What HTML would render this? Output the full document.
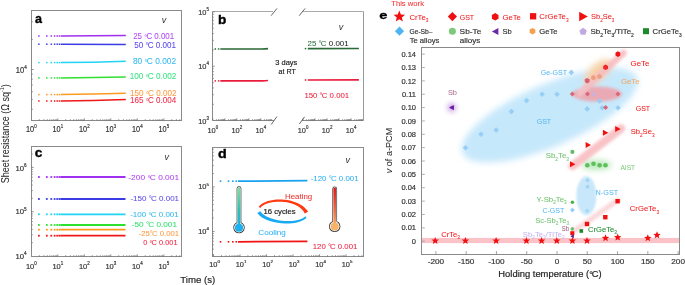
<!DOCTYPE html><html><head><meta charset="utf-8"><style>html,body{margin:0;padding:0;background:#fff;width:685px;height:285px;overflow:hidden}svg{display:block;will-change:transform}text{font-family:"Liberation Sans",sans-serif}</style></head><body>
<svg width="685" height="285" viewBox="0 0 685 285">
<defs><filter id="blur4" x="-50%" y="-50%" width="200%" height="200%"><feGaussianBlur stdDeviation="3"/></filter><filter id="blur2" x="-50%" y="-50%" width="200%" height="200%"><feGaussianBlur stdDeviation="1.6"/></filter><filter id="blur1" x="-50%" y="-50%" width="200%" height="200%"><feGaussianBlur stdDeviation="1"/></filter><linearGradient id="gcold" x1="0" y1="0" x2="0" y2="1"><stop offset="0" stop-color="#86dca0"/><stop offset="0.55" stop-color="#30c0b0"/><stop offset="1" stop-color="#1cb0ee"/></linearGradient><linearGradient id="ghot" x1="0" y1="0" x2="0" y2="1"><stop offset="0" stop-color="#e01818"/><stop offset="0.5" stop-color="#ec6040"/><stop offset="1" stop-color="#f6b46a"/></linearGradient><radialGradient id="gsb"><stop offset="0" stop-color="#a868d4" stop-opacity="0.6"/><stop offset="0.3" stop-color="#b482dc" stop-opacity="0.42"/><stop offset="0.65" stop-color="#d0b0e8" stop-opacity="0.2"/><stop offset="1" stop-color="#e8dcf4" stop-opacity="0"/></radialGradient></defs>
<rect x="31.5" y="10.5" width="150" height="110" fill="none" stroke="#8a8a8a" stroke-width="1"/>
<line x1="39.28" y1="120.50" x2="39.28" y2="119.20" stroke="#666" stroke-width="0.7" />
<line x1="43.94" y1="120.50" x2="43.94" y2="119.20" stroke="#666" stroke-width="0.7" />
<line x1="47.25" y1="120.50" x2="47.25" y2="119.20" stroke="#666" stroke-width="0.7" />
<line x1="49.82" y1="120.50" x2="49.82" y2="119.20" stroke="#666" stroke-width="0.7" />
<line x1="51.92" y1="120.50" x2="51.92" y2="119.20" stroke="#666" stroke-width="0.7" />
<line x1="53.70" y1="120.50" x2="53.70" y2="119.20" stroke="#666" stroke-width="0.7" />
<line x1="55.23" y1="120.50" x2="55.23" y2="119.20" stroke="#666" stroke-width="0.7" />
<line x1="56.59" y1="120.50" x2="56.59" y2="119.20" stroke="#666" stroke-width="0.7" />
<line x1="57.80" y1="120.50" x2="57.80" y2="118.30" stroke="#666" stroke-width="0.7" />
<line x1="65.78" y1="120.50" x2="65.78" y2="119.20" stroke="#666" stroke-width="0.7" />
<line x1="70.44" y1="120.50" x2="70.44" y2="119.20" stroke="#666" stroke-width="0.7" />
<line x1="73.75" y1="120.50" x2="73.75" y2="119.20" stroke="#666" stroke-width="0.7" />
<line x1="76.32" y1="120.50" x2="76.32" y2="119.20" stroke="#666" stroke-width="0.7" />
<line x1="78.42" y1="120.50" x2="78.42" y2="119.20" stroke="#666" stroke-width="0.7" />
<line x1="80.20" y1="120.50" x2="80.20" y2="119.20" stroke="#666" stroke-width="0.7" />
<line x1="81.73" y1="120.50" x2="81.73" y2="119.20" stroke="#666" stroke-width="0.7" />
<line x1="83.09" y1="120.50" x2="83.09" y2="119.20" stroke="#666" stroke-width="0.7" />
<line x1="84.30" y1="120.50" x2="84.30" y2="118.30" stroke="#666" stroke-width="0.7" />
<line x1="92.28" y1="120.50" x2="92.28" y2="119.20" stroke="#666" stroke-width="0.7" />
<line x1="96.94" y1="120.50" x2="96.94" y2="119.20" stroke="#666" stroke-width="0.7" />
<line x1="100.25" y1="120.50" x2="100.25" y2="119.20" stroke="#666" stroke-width="0.7" />
<line x1="102.82" y1="120.50" x2="102.82" y2="119.20" stroke="#666" stroke-width="0.7" />
<line x1="104.92" y1="120.50" x2="104.92" y2="119.20" stroke="#666" stroke-width="0.7" />
<line x1="106.70" y1="120.50" x2="106.70" y2="119.20" stroke="#666" stroke-width="0.7" />
<line x1="108.23" y1="120.50" x2="108.23" y2="119.20" stroke="#666" stroke-width="0.7" />
<line x1="109.59" y1="120.50" x2="109.59" y2="119.20" stroke="#666" stroke-width="0.7" />
<line x1="110.80" y1="120.50" x2="110.80" y2="118.30" stroke="#666" stroke-width="0.7" />
<line x1="118.78" y1="120.50" x2="118.78" y2="119.20" stroke="#666" stroke-width="0.7" />
<line x1="123.44" y1="120.50" x2="123.44" y2="119.20" stroke="#666" stroke-width="0.7" />
<line x1="126.75" y1="120.50" x2="126.75" y2="119.20" stroke="#666" stroke-width="0.7" />
<line x1="129.32" y1="120.50" x2="129.32" y2="119.20" stroke="#666" stroke-width="0.7" />
<line x1="131.42" y1="120.50" x2="131.42" y2="119.20" stroke="#666" stroke-width="0.7" />
<line x1="133.20" y1="120.50" x2="133.20" y2="119.20" stroke="#666" stroke-width="0.7" />
<line x1="134.73" y1="120.50" x2="134.73" y2="119.20" stroke="#666" stroke-width="0.7" />
<line x1="136.09" y1="120.50" x2="136.09" y2="119.20" stroke="#666" stroke-width="0.7" />
<line x1="137.30" y1="120.50" x2="137.30" y2="118.30" stroke="#666" stroke-width="0.7" />
<line x1="145.28" y1="120.50" x2="145.28" y2="119.20" stroke="#666" stroke-width="0.7" />
<line x1="149.94" y1="120.50" x2="149.94" y2="119.20" stroke="#666" stroke-width="0.7" />
<line x1="153.25" y1="120.50" x2="153.25" y2="119.20" stroke="#666" stroke-width="0.7" />
<line x1="155.82" y1="120.50" x2="155.82" y2="119.20" stroke="#666" stroke-width="0.7" />
<line x1="157.92" y1="120.50" x2="157.92" y2="119.20" stroke="#666" stroke-width="0.7" />
<line x1="159.70" y1="120.50" x2="159.70" y2="119.20" stroke="#666" stroke-width="0.7" />
<line x1="161.23" y1="120.50" x2="161.23" y2="119.20" stroke="#666" stroke-width="0.7" />
<line x1="162.59" y1="120.50" x2="162.59" y2="119.20" stroke="#666" stroke-width="0.7" />
<line x1="163.80" y1="120.50" x2="163.80" y2="118.30" stroke="#666" stroke-width="0.7" />
<line x1="171.78" y1="120.50" x2="171.78" y2="119.20" stroke="#666" stroke-width="0.7" />
<line x1="176.44" y1="120.50" x2="176.44" y2="119.20" stroke="#666" stroke-width="0.7" />
<line x1="179.75" y1="120.50" x2="179.75" y2="119.20" stroke="#666" stroke-width="0.7" />
<line x1="31.50" y1="109.29" x2="32.80" y2="109.29" stroke="#666" stroke-width="0.7" />
<line x1="31.50" y1="99.60" x2="32.80" y2="99.60" stroke="#666" stroke-width="0.7" />
<line x1="31.50" y1="91.68" x2="32.80" y2="91.68" stroke="#666" stroke-width="0.7" />
<line x1="31.50" y1="84.99" x2="32.80" y2="84.99" stroke="#666" stroke-width="0.7" />
<line x1="31.50" y1="79.19" x2="32.80" y2="79.19" stroke="#666" stroke-width="0.7" />
<line x1="31.50" y1="74.08" x2="32.80" y2="74.08" stroke="#666" stroke-width="0.7" />
<line x1="31.50" y1="69.50" x2="33.70" y2="69.50" stroke="#666" stroke-width="0.7" />
<line x1="31.50" y1="39.40" x2="32.80" y2="39.40" stroke="#666" stroke-width="0.7" />
<line x1="31.50" y1="21.79" x2="32.80" y2="21.79" stroke="#666" stroke-width="0.7" />
<text transform="translate(31.30,132.14) scale(0.881,1)" font-size="8.3" fill="#333" stroke="#333" stroke-width="0.18" text-anchor="middle">10<tspan font-size="4.98" dy="-4.15">0</tspan></text>
<text transform="translate(57.80,132.14) scale(0.881,1)" font-size="8.3" fill="#333" stroke="#333" stroke-width="0.18" text-anchor="middle">10<tspan font-size="4.98" dy="-4.15">1</tspan></text>
<text transform="translate(84.30,132.14) scale(0.881,1)" font-size="8.3" fill="#333" stroke="#333" stroke-width="0.18" text-anchor="middle">10<tspan font-size="4.98" dy="-4.15">2</tspan></text>
<text transform="translate(110.80,132.14) scale(0.881,1)" font-size="8.3" fill="#333" stroke="#333" stroke-width="0.18" text-anchor="middle">10<tspan font-size="4.98" dy="-4.15">3</tspan></text>
<text transform="translate(137.30,132.14) scale(0.881,1)" font-size="8.3" fill="#333" stroke="#333" stroke-width="0.18" text-anchor="middle">10<tspan font-size="4.98" dy="-4.15">4</tspan></text>
<text transform="translate(163.80,132.14) scale(0.881,1)" font-size="8.3" fill="#333" stroke="#333" stroke-width="0.18" text-anchor="middle">10<tspan font-size="4.98" dy="-4.15">5</tspan></text>
<text transform="translate(21.30,73.34) scale(0.917,1)" font-size="8.3" fill="#333" stroke="#333" stroke-width="0.18" text-anchor="middle">10<tspan font-size="4.98" dy="-4.15">4</tspan></text>
<text transform="translate(34.94,22.90) scale(1.046,1)" font-size="12.0" fill="#000" stroke="#000" stroke-width="0.35" font-weight="bold">a</text>
<text x="164.00" y="22.70" font-size="9" fill="#333" text-anchor="middle" font-style="italic">v</text>
<rect x="38.15" y="35.25" width="1.5" height="1.5" fill="#a030f0"/>
<rect x="46.05" y="35.25" width="1.5" height="1.5" fill="#a030f0"/>
<rect x="50.55" y="35.25" width="1.5" height="1.5" fill="#a030f0"/>
<rect x="53.85" y="35.25" width="1.5" height="1.5" fill="#a030f0"/>
<rect x="56.45" y="35.25" width="1.5" height="1.5" fill="#a030f0"/>
<rect x="58.65" y="35.25" width="1.5" height="1.5" fill="#a030f0"/>
<path d="M60.70,36.00 Q93.25,35.92 125.80,35.60" stroke="#a030f0" stroke-width="1.5" fill="none"/>
<text x="133.21" y="38.94" font-size="8.3" fill="#b048f4" stroke="#b048f4" stroke-width="0.05" text-anchor="start" font-weight="normal" font-style="normal" textLength="40.96" lengthAdjust="spacingAndGlyphs" >25 <tspan dy="0.58" font-size="7.89">°</tspan><tspan dy="-0.58" dx="-0.83">C</tspan> 0.001</text>
<rect x="38.15" y="43.45" width="1.5" height="1.5" fill="#3c3ce6"/>
<rect x="46.05" y="43.45" width="1.5" height="1.5" fill="#3c3ce6"/>
<rect x="50.55" y="43.45" width="1.5" height="1.5" fill="#3c3ce6"/>
<rect x="53.85" y="43.45" width="1.5" height="1.5" fill="#3c3ce6"/>
<rect x="56.45" y="43.45" width="1.5" height="1.5" fill="#3c3ce6"/>
<rect x="58.65" y="43.45" width="1.5" height="1.5" fill="#3c3ce6"/>
<path d="M60.70,44.20 Q93.25,44.24 125.80,44.40" stroke="#3c3ce6" stroke-width="1.5" fill="none"/>
<text x="134.18" y="47.64" font-size="8.3" fill="#5a48f0" stroke="#5a48f0" stroke-width="0.05" text-anchor="start" font-weight="normal" font-style="normal" textLength="41.90" lengthAdjust="spacingAndGlyphs" >50 <tspan dy="0.58" font-size="7.89">°</tspan><tspan dy="-0.58" dx="-0.83">C</tspan> 0.001</text>
<rect x="38.15" y="61.85" width="1.5" height="1.5" fill="#20d4f4"/>
<rect x="46.05" y="61.85" width="1.5" height="1.5" fill="#20d4f4"/>
<rect x="50.55" y="61.85" width="1.5" height="1.5" fill="#20d4f4"/>
<rect x="53.85" y="61.85" width="1.5" height="1.5" fill="#20d4f4"/>
<rect x="56.45" y="61.85" width="1.5" height="1.5" fill="#20d4f4"/>
<rect x="58.65" y="61.85" width="1.5" height="1.5" fill="#20d4f4"/>
<path d="M60.70,62.60 Q93.25,62.32 125.80,61.20" stroke="#20d4f4" stroke-width="1.5" fill="none"/>
<text x="132.95" y="64.34" font-size="8.3" fill="#30b8f0" stroke="#30b8f0" stroke-width="0.05" text-anchor="start" font-weight="normal" font-style="normal" textLength="43.16" lengthAdjust="spacingAndGlyphs" >80 <tspan dy="0.58" font-size="7.89">°</tspan><tspan dy="-0.58" dx="-0.83">C</tspan> 0.002</text>
<rect x="38.15" y="77.15" width="1.5" height="1.5" fill="#30e030"/>
<rect x="46.05" y="77.15" width="1.5" height="1.5" fill="#30e030"/>
<rect x="50.55" y="77.15" width="1.5" height="1.5" fill="#30e030"/>
<rect x="53.85" y="77.15" width="1.5" height="1.5" fill="#30e030"/>
<rect x="56.45" y="77.15" width="1.5" height="1.5" fill="#30e030"/>
<rect x="58.65" y="77.15" width="1.5" height="1.5" fill="#30e030"/>
<path d="M60.70,77.90 Q93.25,77.72 125.80,77.00" stroke="#30e030" stroke-width="1.5" fill="none"/>
<text x="129.69" y="79.44" font-size="8.3" fill="#38e480" stroke="#38e480" stroke-width="0.05" text-anchor="start" font-weight="normal" font-style="normal" textLength="46.71" lengthAdjust="spacingAndGlyphs" >100 <tspan dy="0.58" font-size="7.89">°</tspan><tspan dy="-0.58" dx="-0.83">C</tspan> 0.002</text>
<rect x="38.15" y="93.85" width="1.5" height="1.5" fill="#ff9a20"/>
<rect x="46.05" y="93.85" width="1.5" height="1.5" fill="#ff9a20"/>
<rect x="50.55" y="93.85" width="1.5" height="1.5" fill="#ff9a20"/>
<rect x="53.85" y="93.85" width="1.5" height="1.5" fill="#ff9a20"/>
<rect x="56.45" y="93.85" width="1.5" height="1.5" fill="#ff9a20"/>
<rect x="58.65" y="93.85" width="1.5" height="1.5" fill="#ff9a20"/>
<path d="M60.70,94.60 Q93.25,94.34 125.80,93.30" stroke="#ff9a20" stroke-width="1.5" fill="none"/>
<text x="130.10" y="96.04" font-size="8.3" fill="#ff9a40" stroke="#ff9a40" stroke-width="0.05" text-anchor="start" font-weight="normal" font-style="normal" textLength="46.30" lengthAdjust="spacingAndGlyphs" >150 <tspan dy="0.58" font-size="7.89">°</tspan><tspan dy="-0.58" dx="-0.83">C</tspan> 0.002</text>
<rect x="38.15" y="100.25" width="1.5" height="1.5" fill="#f01818"/>
<rect x="46.05" y="100.25" width="1.5" height="1.5" fill="#f01818"/>
<rect x="50.55" y="100.25" width="1.5" height="1.5" fill="#f01818"/>
<rect x="53.85" y="100.25" width="1.5" height="1.5" fill="#f01818"/>
<rect x="56.45" y="100.25" width="1.5" height="1.5" fill="#f01818"/>
<rect x="58.65" y="100.25" width="1.5" height="1.5" fill="#f01818"/>
<path d="M60.70,101.00 Q93.25,100.72 125.80,99.60" stroke="#f01818" stroke-width="1.5" fill="none"/>
<text x="130.10" y="103.44" font-size="8.3" fill="#f02844" stroke="#f02844" stroke-width="0.05" text-anchor="start" font-weight="normal" font-style="normal" textLength="46.13" lengthAdjust="spacingAndGlyphs" >165 <tspan dy="0.58" font-size="7.89">°</tspan><tspan dy="-0.58" dx="-0.83">C</tspan> 0.004</text>
<rect x="31.5" y="146.5" width="150" height="110" fill="none" stroke="#8a8a8a" stroke-width="1"/>
<line x1="39.28" y1="256.50" x2="39.28" y2="255.20" stroke="#666" stroke-width="0.7" />
<line x1="43.94" y1="256.50" x2="43.94" y2="255.20" stroke="#666" stroke-width="0.7" />
<line x1="47.25" y1="256.50" x2="47.25" y2="255.20" stroke="#666" stroke-width="0.7" />
<line x1="49.82" y1="256.50" x2="49.82" y2="255.20" stroke="#666" stroke-width="0.7" />
<line x1="51.92" y1="256.50" x2="51.92" y2="255.20" stroke="#666" stroke-width="0.7" />
<line x1="53.70" y1="256.50" x2="53.70" y2="255.20" stroke="#666" stroke-width="0.7" />
<line x1="55.23" y1="256.50" x2="55.23" y2="255.20" stroke="#666" stroke-width="0.7" />
<line x1="56.59" y1="256.50" x2="56.59" y2="255.20" stroke="#666" stroke-width="0.7" />
<line x1="57.80" y1="256.50" x2="57.80" y2="254.30" stroke="#666" stroke-width="0.7" />
<line x1="65.78" y1="256.50" x2="65.78" y2="255.20" stroke="#666" stroke-width="0.7" />
<line x1="70.44" y1="256.50" x2="70.44" y2="255.20" stroke="#666" stroke-width="0.7" />
<line x1="73.75" y1="256.50" x2="73.75" y2="255.20" stroke="#666" stroke-width="0.7" />
<line x1="76.32" y1="256.50" x2="76.32" y2="255.20" stroke="#666" stroke-width="0.7" />
<line x1="78.42" y1="256.50" x2="78.42" y2="255.20" stroke="#666" stroke-width="0.7" />
<line x1="80.20" y1="256.50" x2="80.20" y2="255.20" stroke="#666" stroke-width="0.7" />
<line x1="81.73" y1="256.50" x2="81.73" y2="255.20" stroke="#666" stroke-width="0.7" />
<line x1="83.09" y1="256.50" x2="83.09" y2="255.20" stroke="#666" stroke-width="0.7" />
<line x1="84.30" y1="256.50" x2="84.30" y2="254.30" stroke="#666" stroke-width="0.7" />
<line x1="92.28" y1="256.50" x2="92.28" y2="255.20" stroke="#666" stroke-width="0.7" />
<line x1="96.94" y1="256.50" x2="96.94" y2="255.20" stroke="#666" stroke-width="0.7" />
<line x1="100.25" y1="256.50" x2="100.25" y2="255.20" stroke="#666" stroke-width="0.7" />
<line x1="102.82" y1="256.50" x2="102.82" y2="255.20" stroke="#666" stroke-width="0.7" />
<line x1="104.92" y1="256.50" x2="104.92" y2="255.20" stroke="#666" stroke-width="0.7" />
<line x1="106.70" y1="256.50" x2="106.70" y2="255.20" stroke="#666" stroke-width="0.7" />
<line x1="108.23" y1="256.50" x2="108.23" y2="255.20" stroke="#666" stroke-width="0.7" />
<line x1="109.59" y1="256.50" x2="109.59" y2="255.20" stroke="#666" stroke-width="0.7" />
<line x1="110.80" y1="256.50" x2="110.80" y2="254.30" stroke="#666" stroke-width="0.7" />
<line x1="118.78" y1="256.50" x2="118.78" y2="255.20" stroke="#666" stroke-width="0.7" />
<line x1="123.44" y1="256.50" x2="123.44" y2="255.20" stroke="#666" stroke-width="0.7" />
<line x1="126.75" y1="256.50" x2="126.75" y2="255.20" stroke="#666" stroke-width="0.7" />
<line x1="129.32" y1="256.50" x2="129.32" y2="255.20" stroke="#666" stroke-width="0.7" />
<line x1="131.42" y1="256.50" x2="131.42" y2="255.20" stroke="#666" stroke-width="0.7" />
<line x1="133.20" y1="256.50" x2="133.20" y2="255.20" stroke="#666" stroke-width="0.7" />
<line x1="134.73" y1="256.50" x2="134.73" y2="255.20" stroke="#666" stroke-width="0.7" />
<line x1="136.09" y1="256.50" x2="136.09" y2="255.20" stroke="#666" stroke-width="0.7" />
<line x1="137.30" y1="256.50" x2="137.30" y2="254.30" stroke="#666" stroke-width="0.7" />
<line x1="145.28" y1="256.50" x2="145.28" y2="255.20" stroke="#666" stroke-width="0.7" />
<line x1="149.94" y1="256.50" x2="149.94" y2="255.20" stroke="#666" stroke-width="0.7" />
<line x1="153.25" y1="256.50" x2="153.25" y2="255.20" stroke="#666" stroke-width="0.7" />
<line x1="155.82" y1="256.50" x2="155.82" y2="255.20" stroke="#666" stroke-width="0.7" />
<line x1="157.92" y1="256.50" x2="157.92" y2="255.20" stroke="#666" stroke-width="0.7" />
<line x1="159.70" y1="256.50" x2="159.70" y2="255.20" stroke="#666" stroke-width="0.7" />
<line x1="161.23" y1="256.50" x2="161.23" y2="255.20" stroke="#666" stroke-width="0.7" />
<line x1="162.59" y1="256.50" x2="162.59" y2="255.20" stroke="#666" stroke-width="0.7" />
<line x1="163.80" y1="256.50" x2="163.80" y2="254.30" stroke="#666" stroke-width="0.7" />
<line x1="171.78" y1="256.50" x2="171.78" y2="255.20" stroke="#666" stroke-width="0.7" />
<line x1="176.44" y1="256.50" x2="176.44" y2="255.20" stroke="#666" stroke-width="0.7" />
<line x1="179.75" y1="256.50" x2="179.75" y2="255.20" stroke="#666" stroke-width="0.7" />
<line x1="31.50" y1="242.66" x2="32.80" y2="242.66" stroke="#666" stroke-width="0.7" />
<line x1="31.50" y1="234.86" x2="32.80" y2="234.86" stroke="#666" stroke-width="0.7" />
<line x1="31.50" y1="229.33" x2="32.80" y2="229.33" stroke="#666" stroke-width="0.7" />
<line x1="31.50" y1="225.04" x2="32.80" y2="225.04" stroke="#666" stroke-width="0.7" />
<line x1="31.50" y1="221.53" x2="32.80" y2="221.53" stroke="#666" stroke-width="0.7" />
<line x1="31.50" y1="218.56" x2="32.80" y2="218.56" stroke="#666" stroke-width="0.7" />
<line x1="31.50" y1="215.99" x2="32.80" y2="215.99" stroke="#666" stroke-width="0.7" />
<line x1="31.50" y1="213.73" x2="32.80" y2="213.73" stroke="#666" stroke-width="0.7" />
<line x1="31.50" y1="211.70" x2="33.70" y2="211.70" stroke="#666" stroke-width="0.7" />
<line x1="31.50" y1="198.36" x2="32.80" y2="198.36" stroke="#666" stroke-width="0.7" />
<line x1="31.50" y1="190.56" x2="32.80" y2="190.56" stroke="#666" stroke-width="0.7" />
<line x1="31.50" y1="185.03" x2="32.80" y2="185.03" stroke="#666" stroke-width="0.7" />
<line x1="31.50" y1="180.74" x2="32.80" y2="180.74" stroke="#666" stroke-width="0.7" />
<line x1="31.50" y1="177.23" x2="32.80" y2="177.23" stroke="#666" stroke-width="0.7" />
<line x1="31.50" y1="174.26" x2="32.80" y2="174.26" stroke="#666" stroke-width="0.7" />
<line x1="31.50" y1="171.69" x2="32.80" y2="171.69" stroke="#666" stroke-width="0.7" />
<line x1="31.50" y1="169.43" x2="32.80" y2="169.43" stroke="#666" stroke-width="0.7" />
<line x1="31.50" y1="167.40" x2="33.70" y2="167.40" stroke="#666" stroke-width="0.7" />
<line x1="31.50" y1="154.06" x2="32.80" y2="154.06" stroke="#666" stroke-width="0.7" />
<text transform="translate(31.30,268.76) scale(0.963,1)" font-size="7.8" fill="#333" stroke="#333" stroke-width="0.18" text-anchor="middle">10<tspan font-size="4.68" dy="-3.90">0</tspan></text>
<text transform="translate(57.80,268.76) scale(0.963,1)" font-size="7.8" fill="#333" stroke="#333" stroke-width="0.18" text-anchor="middle">10<tspan font-size="4.68" dy="-3.90">1</tspan></text>
<text transform="translate(84.30,268.76) scale(0.963,1)" font-size="7.8" fill="#333" stroke="#333" stroke-width="0.18" text-anchor="middle">10<tspan font-size="4.68" dy="-3.90">2</tspan></text>
<text transform="translate(110.80,268.76) scale(0.963,1)" font-size="7.8" fill="#333" stroke="#333" stroke-width="0.18" text-anchor="middle">10<tspan font-size="4.68" dy="-3.90">3</tspan></text>
<text transform="translate(137.30,268.76) scale(0.963,1)" font-size="7.8" fill="#333" stroke="#333" stroke-width="0.18" text-anchor="middle">10<tspan font-size="4.68" dy="-3.90">4</tspan></text>
<text transform="translate(163.80,268.76) scale(0.963,1)" font-size="7.8" fill="#333" stroke="#333" stroke-width="0.18" text-anchor="middle">10<tspan font-size="4.68" dy="-3.90">5</tspan></text>
<text transform="translate(21.00,170.96) scale(0.989,1)" font-size="7.8" fill="#333" stroke="#333" stroke-width="0.18" text-anchor="middle">10<tspan font-size="4.68" dy="-3.90">6</tspan></text>
<text transform="translate(21.00,214.46) scale(0.989,1)" font-size="7.8" fill="#333" stroke="#333" stroke-width="0.18" text-anchor="middle">10<tspan font-size="4.68" dy="-3.90">5</tspan></text>
<text transform="translate(21.00,258.96) scale(0.989,1)" font-size="7.8" fill="#333" stroke="#333" stroke-width="0.18" text-anchor="middle">10<tspan font-size="4.68" dy="-3.90">4</tspan></text>
<text transform="translate(34.76,157.20) scale(1.144,1)" font-size="12.0" fill="#000" stroke="#000" stroke-width="0.35" font-weight="bold">c</text>
<text x="166.80" y="159.80" font-size="9" fill="#333" text-anchor="middle" font-style="italic">v</text>
<rect x="38.00" y="176.10" width="1.8" height="1.8" fill="#a030f0"/>
<rect x="45.90" y="176.10" width="1.8" height="1.8" fill="#a030f0"/>
<rect x="50.40" y="176.10" width="1.8" height="1.8" fill="#a030f0"/>
<rect x="53.70" y="176.10" width="1.8" height="1.8" fill="#a030f0"/>
<rect x="56.30" y="176.10" width="1.8" height="1.8" fill="#a030f0"/>
<rect x="58.50" y="176.10" width="1.8" height="1.8" fill="#a030f0"/>
<path d="M60.30,177.00 Q92.90,177.00 125.50,177.00" stroke="#a030f0" stroke-width="1.8" fill="none"/>
<text x="128.34" y="179.97" font-size="8.1" fill="#b040f4" stroke="#b040f4" stroke-width="0.05" text-anchor="start" font-weight="normal" font-style="normal" textLength="50.76" lengthAdjust="spacingAndGlyphs" >-200 <tspan dy="0.57" font-size="7.69">°</tspan><tspan dy="-0.57" dx="-0.81">C</tspan> 0.001</text>
<rect x="38.00" y="198.10" width="1.8" height="1.8" fill="#3c3ce6"/>
<rect x="45.90" y="198.10" width="1.8" height="1.8" fill="#3c3ce6"/>
<rect x="50.40" y="198.10" width="1.8" height="1.8" fill="#3c3ce6"/>
<rect x="53.70" y="198.10" width="1.8" height="1.8" fill="#3c3ce6"/>
<rect x="56.30" y="198.10" width="1.8" height="1.8" fill="#3c3ce6"/>
<rect x="58.50" y="198.10" width="1.8" height="1.8" fill="#3c3ce6"/>
<path d="M60.30,199.00 Q92.90,199.00 125.50,199.00" stroke="#3c3ce6" stroke-width="1.8" fill="none"/>
<text x="130.45" y="200.77" font-size="8.1" fill="#5a4ae8" stroke="#5a4ae8" stroke-width="0.05" text-anchor="start" font-weight="normal" font-style="normal" textLength="48.62" lengthAdjust="spacingAndGlyphs" >-150 <tspan dy="0.57" font-size="7.69">°</tspan><tspan dy="-0.57" dx="-0.81">C</tspan> 0.001</text>
<rect x="38.00" y="213.40" width="1.8" height="1.8" fill="#20d4f4"/>
<rect x="45.90" y="213.40" width="1.8" height="1.8" fill="#20d4f4"/>
<rect x="50.40" y="213.40" width="1.8" height="1.8" fill="#20d4f4"/>
<rect x="53.70" y="213.40" width="1.8" height="1.8" fill="#20d4f4"/>
<rect x="56.30" y="213.40" width="1.8" height="1.8" fill="#20d4f4"/>
<rect x="58.50" y="213.40" width="1.8" height="1.8" fill="#20d4f4"/>
<path d="M60.30,214.30 Q92.90,214.30 125.50,214.30" stroke="#20d4f4" stroke-width="1.8" fill="none"/>
<text x="130.15" y="216.97" font-size="8.1" fill="#30b8f0" stroke="#30b8f0" stroke-width="0.05" text-anchor="start" font-weight="normal" font-style="normal" textLength="48.62" lengthAdjust="spacingAndGlyphs" >-100 <tspan dy="0.57" font-size="7.69">°</tspan><tspan dy="-0.57" dx="-0.81">C</tspan> 0.001</text>
<rect x="38.00" y="224.10" width="1.8" height="1.8" fill="#30e030"/>
<rect x="45.90" y="224.10" width="1.8" height="1.8" fill="#30e030"/>
<rect x="50.40" y="224.10" width="1.8" height="1.8" fill="#30e030"/>
<rect x="53.70" y="224.10" width="1.8" height="1.8" fill="#30e030"/>
<rect x="56.30" y="224.10" width="1.8" height="1.8" fill="#30e030"/>
<rect x="58.50" y="224.10" width="1.8" height="1.8" fill="#30e030"/>
<path d="M60.30,225.00 Q92.90,225.00 125.50,225.00" stroke="#30e030" stroke-width="1.8" fill="none"/>
<text x="131.75" y="226.57" font-size="8.1" fill="#30e070" stroke="#30e070" stroke-width="0.05" text-anchor="start" font-weight="normal" font-style="normal" textLength="45.24" lengthAdjust="spacingAndGlyphs" >-50 <tspan dy="0.57" font-size="7.69">°</tspan><tspan dy="-0.57" dx="-0.81">C</tspan> 0.001</text>
<rect x="38.00" y="228.80" width="1.8" height="1.8" fill="#ff9a20"/>
<rect x="45.90" y="228.80" width="1.8" height="1.8" fill="#ff9a20"/>
<rect x="50.40" y="228.80" width="1.8" height="1.8" fill="#ff9a20"/>
<rect x="53.70" y="228.80" width="1.8" height="1.8" fill="#ff9a20"/>
<rect x="56.30" y="228.80" width="1.8" height="1.8" fill="#ff9a20"/>
<rect x="58.50" y="228.80" width="1.8" height="1.8" fill="#ff9a20"/>
<path d="M60.30,229.70 Q92.90,229.70 125.50,229.70" stroke="#ff9a20" stroke-width="1.8" fill="none"/>
<text x="138.67" y="235.87" font-size="8.1" fill="#ff9a40" stroke="#ff9a40" stroke-width="0.05" text-anchor="start" font-weight="normal" font-style="normal" textLength="40.50" lengthAdjust="spacingAndGlyphs" >-25<tspan dy="0.57" font-size="7.69">°</tspan><tspan dy="-0.57" dx="-0.81">C</tspan> 0.001</text>
<rect x="38.00" y="234.80" width="1.8" height="1.8" fill="#f01818"/>
<rect x="45.90" y="234.80" width="1.8" height="1.8" fill="#f01818"/>
<rect x="50.40" y="234.80" width="1.8" height="1.8" fill="#f01818"/>
<rect x="53.70" y="234.80" width="1.8" height="1.8" fill="#f01818"/>
<rect x="56.30" y="234.80" width="1.8" height="1.8" fill="#f01818"/>
<rect x="58.50" y="234.80" width="1.8" height="1.8" fill="#f01818"/>
<path d="M60.30,235.70 Q92.90,235.70 125.50,235.70" stroke="#f01818" stroke-width="1.8" fill="none"/>
<text x="143.22" y="245.47" font-size="8.1" fill="#f02040" stroke="#f02040" stroke-width="0.05" text-anchor="start" font-weight="normal" font-style="normal" textLength="34.33" lengthAdjust="spacingAndGlyphs" >0 <tspan dy="0.57" font-size="7.69">°</tspan><tspan dy="-0.57" dx="-0.81">C</tspan> 0.001</text>
<line x1="212.50" y1="11.50" x2="212.50" y2="120.50" stroke="#8a8a8a" stroke-width="1" />
<line x1="363.50" y1="11.50" x2="363.50" y2="120.50" stroke="#999" stroke-width="1" />
<line x1="212.50" y1="11.50" x2="273.00" y2="11.50" stroke="#aaa" stroke-width="1" />
<line x1="303.00" y1="11.50" x2="363.50" y2="11.50" stroke="#aaa" stroke-width="1" />
<line x1="212.50" y1="120.50" x2="274.00" y2="120.50" stroke="#8a8a8a" stroke-width="1" />
<line x1="302.00" y1="120.50" x2="363.50" y2="120.50" stroke="#8a8a8a" stroke-width="1" />
<line x1="271.10" y1="15.70" x2="277.00" y2="8.40" stroke="#555" stroke-width="0.9" />
<line x1="299.20" y1="15.70" x2="305.10" y2="8.40" stroke="#555" stroke-width="0.9" />
<line x1="271.20" y1="124.50" x2="276.90" y2="116.60" stroke="#555" stroke-width="0.9" />
<line x1="299.30" y1="124.00" x2="304.60" y2="116.80" stroke="#555" stroke-width="0.9" />
<line x1="212.50" y1="104.32" x2="213.80" y2="104.32" stroke="#666" stroke-width="0.7" />
<line x1="212.50" y1="94.74" x2="213.80" y2="94.74" stroke="#666" stroke-width="0.7" />
<line x1="212.50" y1="87.95" x2="213.80" y2="87.95" stroke="#666" stroke-width="0.7" />
<line x1="212.50" y1="82.68" x2="213.80" y2="82.68" stroke="#666" stroke-width="0.7" />
<line x1="212.50" y1="78.37" x2="213.80" y2="78.37" stroke="#666" stroke-width="0.7" />
<line x1="212.50" y1="74.73" x2="213.80" y2="74.73" stroke="#666" stroke-width="0.7" />
<line x1="212.50" y1="71.57" x2="213.80" y2="71.57" stroke="#666" stroke-width="0.7" />
<line x1="212.50" y1="68.79" x2="213.80" y2="68.79" stroke="#666" stroke-width="0.7" />
<line x1="212.50" y1="66.30" x2="214.70" y2="66.30" stroke="#666" stroke-width="0.7" />
<line x1="212.50" y1="49.92" x2="213.80" y2="49.92" stroke="#666" stroke-width="0.7" />
<line x1="212.50" y1="40.34" x2="213.80" y2="40.34" stroke="#666" stroke-width="0.7" />
<line x1="212.50" y1="33.55" x2="213.80" y2="33.55" stroke="#666" stroke-width="0.7" />
<line x1="212.50" y1="28.28" x2="213.80" y2="28.28" stroke="#666" stroke-width="0.7" />
<line x1="212.50" y1="23.97" x2="213.80" y2="23.97" stroke="#666" stroke-width="0.7" />
<line x1="212.50" y1="20.33" x2="213.80" y2="20.33" stroke="#666" stroke-width="0.7" />
<line x1="212.50" y1="17.17" x2="213.80" y2="17.17" stroke="#666" stroke-width="0.7" />
<line x1="212.50" y1="14.39" x2="213.80" y2="14.39" stroke="#666" stroke-width="0.7" />
<line x1="212.50" y1="11.90" x2="214.70" y2="11.90" stroke="#666" stroke-width="0.7" />
<line x1="212.80" y1="120.50" x2="212.80" y2="118.30" stroke="#666" stroke-width="0.7" />
<line x1="216.41" y1="120.50" x2="216.41" y2="119.20" stroke="#666" stroke-width="0.7" />
<line x1="218.53" y1="120.50" x2="218.53" y2="119.20" stroke="#666" stroke-width="0.7" />
<line x1="220.02" y1="120.50" x2="220.02" y2="119.20" stroke="#666" stroke-width="0.7" />
<line x1="221.19" y1="120.50" x2="221.19" y2="119.20" stroke="#666" stroke-width="0.7" />
<line x1="222.14" y1="120.50" x2="222.14" y2="119.20" stroke="#666" stroke-width="0.7" />
<line x1="222.94" y1="120.50" x2="222.94" y2="119.20" stroke="#666" stroke-width="0.7" />
<line x1="223.64" y1="120.50" x2="223.64" y2="119.20" stroke="#666" stroke-width="0.7" />
<line x1="224.25" y1="120.50" x2="224.25" y2="119.20" stroke="#666" stroke-width="0.7" />
<line x1="224.80" y1="120.50" x2="224.80" y2="118.30" stroke="#666" stroke-width="0.7" />
<line x1="228.41" y1="120.50" x2="228.41" y2="119.20" stroke="#666" stroke-width="0.7" />
<line x1="230.53" y1="120.50" x2="230.53" y2="119.20" stroke="#666" stroke-width="0.7" />
<line x1="232.02" y1="120.50" x2="232.02" y2="119.20" stroke="#666" stroke-width="0.7" />
<line x1="233.19" y1="120.50" x2="233.19" y2="119.20" stroke="#666" stroke-width="0.7" />
<line x1="234.14" y1="120.50" x2="234.14" y2="119.20" stroke="#666" stroke-width="0.7" />
<line x1="234.94" y1="120.50" x2="234.94" y2="119.20" stroke="#666" stroke-width="0.7" />
<line x1="235.64" y1="120.50" x2="235.64" y2="119.20" stroke="#666" stroke-width="0.7" />
<line x1="236.25" y1="120.50" x2="236.25" y2="119.20" stroke="#666" stroke-width="0.7" />
<line x1="236.80" y1="120.50" x2="236.80" y2="118.30" stroke="#666" stroke-width="0.7" />
<line x1="240.41" y1="120.50" x2="240.41" y2="119.20" stroke="#666" stroke-width="0.7" />
<line x1="242.53" y1="120.50" x2="242.53" y2="119.20" stroke="#666" stroke-width="0.7" />
<line x1="244.02" y1="120.50" x2="244.02" y2="119.20" stroke="#666" stroke-width="0.7" />
<line x1="245.19" y1="120.50" x2="245.19" y2="119.20" stroke="#666" stroke-width="0.7" />
<line x1="246.14" y1="120.50" x2="246.14" y2="119.20" stroke="#666" stroke-width="0.7" />
<line x1="246.94" y1="120.50" x2="246.94" y2="119.20" stroke="#666" stroke-width="0.7" />
<line x1="247.64" y1="120.50" x2="247.64" y2="119.20" stroke="#666" stroke-width="0.7" />
<line x1="248.25" y1="120.50" x2="248.25" y2="119.20" stroke="#666" stroke-width="0.7" />
<line x1="248.80" y1="120.50" x2="248.80" y2="118.30" stroke="#666" stroke-width="0.7" />
<line x1="252.41" y1="120.50" x2="252.41" y2="119.20" stroke="#666" stroke-width="0.7" />
<line x1="254.53" y1="120.50" x2="254.53" y2="119.20" stroke="#666" stroke-width="0.7" />
<line x1="256.02" y1="120.50" x2="256.02" y2="119.20" stroke="#666" stroke-width="0.7" />
<line x1="257.19" y1="120.50" x2="257.19" y2="119.20" stroke="#666" stroke-width="0.7" />
<line x1="258.14" y1="120.50" x2="258.14" y2="119.20" stroke="#666" stroke-width="0.7" />
<line x1="258.94" y1="120.50" x2="258.94" y2="119.20" stroke="#666" stroke-width="0.7" />
<line x1="259.64" y1="120.50" x2="259.64" y2="119.20" stroke="#666" stroke-width="0.7" />
<line x1="260.25" y1="120.50" x2="260.25" y2="119.20" stroke="#666" stroke-width="0.7" />
<line x1="260.80" y1="120.50" x2="260.80" y2="118.30" stroke="#666" stroke-width="0.7" />
<line x1="264.41" y1="120.50" x2="264.41" y2="119.20" stroke="#666" stroke-width="0.7" />
<line x1="266.53" y1="120.50" x2="266.53" y2="119.20" stroke="#666" stroke-width="0.7" />
<line x1="268.02" y1="120.50" x2="268.02" y2="119.20" stroke="#666" stroke-width="0.7" />
<line x1="269.19" y1="120.50" x2="269.19" y2="119.20" stroke="#666" stroke-width="0.7" />
<line x1="270.14" y1="120.50" x2="270.14" y2="119.20" stroke="#666" stroke-width="0.7" />
<line x1="270.94" y1="120.50" x2="270.94" y2="119.20" stroke="#666" stroke-width="0.7" />
<line x1="271.64" y1="120.50" x2="271.64" y2="119.20" stroke="#666" stroke-width="0.7" />
<line x1="303.00" y1="120.50" x2="303.00" y2="118.30" stroke="#666" stroke-width="0.7" />
<line x1="306.61" y1="120.50" x2="306.61" y2="119.20" stroke="#666" stroke-width="0.7" />
<line x1="308.73" y1="120.50" x2="308.73" y2="119.20" stroke="#666" stroke-width="0.7" />
<line x1="310.22" y1="120.50" x2="310.22" y2="119.20" stroke="#666" stroke-width="0.7" />
<line x1="311.39" y1="120.50" x2="311.39" y2="119.20" stroke="#666" stroke-width="0.7" />
<line x1="312.34" y1="120.50" x2="312.34" y2="119.20" stroke="#666" stroke-width="0.7" />
<line x1="313.14" y1="120.50" x2="313.14" y2="119.20" stroke="#666" stroke-width="0.7" />
<line x1="313.84" y1="120.50" x2="313.84" y2="119.20" stroke="#666" stroke-width="0.7" />
<line x1="314.45" y1="120.50" x2="314.45" y2="119.20" stroke="#666" stroke-width="0.7" />
<line x1="315.00" y1="120.50" x2="315.00" y2="118.30" stroke="#666" stroke-width="0.7" />
<line x1="318.61" y1="120.50" x2="318.61" y2="119.20" stroke="#666" stroke-width="0.7" />
<line x1="320.73" y1="120.50" x2="320.73" y2="119.20" stroke="#666" stroke-width="0.7" />
<line x1="322.22" y1="120.50" x2="322.22" y2="119.20" stroke="#666" stroke-width="0.7" />
<line x1="323.39" y1="120.50" x2="323.39" y2="119.20" stroke="#666" stroke-width="0.7" />
<line x1="324.34" y1="120.50" x2="324.34" y2="119.20" stroke="#666" stroke-width="0.7" />
<line x1="325.14" y1="120.50" x2="325.14" y2="119.20" stroke="#666" stroke-width="0.7" />
<line x1="325.84" y1="120.50" x2="325.84" y2="119.20" stroke="#666" stroke-width="0.7" />
<line x1="326.45" y1="120.50" x2="326.45" y2="119.20" stroke="#666" stroke-width="0.7" />
<line x1="327.00" y1="120.50" x2="327.00" y2="118.30" stroke="#666" stroke-width="0.7" />
<line x1="330.61" y1="120.50" x2="330.61" y2="119.20" stroke="#666" stroke-width="0.7" />
<line x1="332.73" y1="120.50" x2="332.73" y2="119.20" stroke="#666" stroke-width="0.7" />
<line x1="334.22" y1="120.50" x2="334.22" y2="119.20" stroke="#666" stroke-width="0.7" />
<line x1="335.39" y1="120.50" x2="335.39" y2="119.20" stroke="#666" stroke-width="0.7" />
<line x1="336.34" y1="120.50" x2="336.34" y2="119.20" stroke="#666" stroke-width="0.7" />
<line x1="337.14" y1="120.50" x2="337.14" y2="119.20" stroke="#666" stroke-width="0.7" />
<line x1="337.84" y1="120.50" x2="337.84" y2="119.20" stroke="#666" stroke-width="0.7" />
<line x1="338.45" y1="120.50" x2="338.45" y2="119.20" stroke="#666" stroke-width="0.7" />
<line x1="339.00" y1="120.50" x2="339.00" y2="118.30" stroke="#666" stroke-width="0.7" />
<line x1="342.61" y1="120.50" x2="342.61" y2="119.20" stroke="#666" stroke-width="0.7" />
<line x1="344.73" y1="120.50" x2="344.73" y2="119.20" stroke="#666" stroke-width="0.7" />
<line x1="346.22" y1="120.50" x2="346.22" y2="119.20" stroke="#666" stroke-width="0.7" />
<line x1="347.39" y1="120.50" x2="347.39" y2="119.20" stroke="#666" stroke-width="0.7" />
<line x1="348.34" y1="120.50" x2="348.34" y2="119.20" stroke="#666" stroke-width="0.7" />
<line x1="349.14" y1="120.50" x2="349.14" y2="119.20" stroke="#666" stroke-width="0.7" />
<line x1="349.84" y1="120.50" x2="349.84" y2="119.20" stroke="#666" stroke-width="0.7" />
<line x1="350.45" y1="120.50" x2="350.45" y2="119.20" stroke="#666" stroke-width="0.7" />
<line x1="351.00" y1="120.50" x2="351.00" y2="118.30" stroke="#666" stroke-width="0.7" />
<line x1="354.61" y1="120.50" x2="354.61" y2="119.20" stroke="#666" stroke-width="0.7" />
<line x1="356.73" y1="120.50" x2="356.73" y2="119.20" stroke="#666" stroke-width="0.7" />
<line x1="358.22" y1="120.50" x2="358.22" y2="119.20" stroke="#666" stroke-width="0.7" />
<line x1="359.39" y1="120.50" x2="359.39" y2="119.20" stroke="#666" stroke-width="0.7" />
<line x1="360.34" y1="120.50" x2="360.34" y2="119.20" stroke="#666" stroke-width="0.7" />
<line x1="361.14" y1="120.50" x2="361.14" y2="119.20" stroke="#666" stroke-width="0.7" />
<line x1="361.84" y1="120.50" x2="361.84" y2="119.20" stroke="#666" stroke-width="0.7" />
<line x1="362.45" y1="120.50" x2="362.45" y2="119.20" stroke="#666" stroke-width="0.7" />
<text transform="translate(212.80,132.80) scale(0.939,1)" font-size="7.9" fill="#333" stroke="#333" stroke-width="0.18" text-anchor="middle">10<tspan font-size="4.74" dy="-3.95">0</tspan></text>
<text transform="translate(303.00,132.80) scale(0.939,1)" font-size="7.9" fill="#333" stroke="#333" stroke-width="0.18" text-anchor="middle">10<tspan font-size="4.74" dy="-3.95">0</tspan></text>
<text transform="translate(236.80,132.80) scale(0.939,1)" font-size="7.9" fill="#333" stroke="#333" stroke-width="0.18" text-anchor="middle">10<tspan font-size="4.74" dy="-3.95">2</tspan></text>
<text transform="translate(327.00,132.80) scale(0.939,1)" font-size="7.9" fill="#333" stroke="#333" stroke-width="0.18" text-anchor="middle">10<tspan font-size="4.74" dy="-3.95">2</tspan></text>
<text transform="translate(260.80,132.80) scale(0.939,1)" font-size="7.9" fill="#333" stroke="#333" stroke-width="0.18" text-anchor="middle">10<tspan font-size="4.74" dy="-3.95">4</tspan></text>
<text transform="translate(351.00,132.80) scale(0.939,1)" font-size="7.9" fill="#333" stroke="#333" stroke-width="0.18" text-anchor="middle">10<tspan font-size="4.74" dy="-3.95">4</tspan></text>
<text transform="translate(203.50,15.20) scale(0.939,1)" font-size="7.9" fill="#333" stroke="#333" stroke-width="0.18" text-anchor="middle">10<tspan font-size="4.74" dy="-3.95">5</tspan></text>
<text transform="translate(203.50,69.10) scale(0.939,1)" font-size="7.9" fill="#333" stroke="#333" stroke-width="0.18" text-anchor="middle">10<tspan font-size="4.74" dy="-3.95">4</tspan></text>
<text transform="translate(203.50,123.60) scale(0.939,1)" font-size="7.9" fill="#333" stroke="#333" stroke-width="0.18" text-anchor="middle">10<tspan font-size="4.74" dy="-3.95">3</tspan></text>
<text transform="translate(218.11,23.60) scale(1.067,1)" font-size="12.8" fill="#000" stroke="#000" stroke-width="0.35" font-weight="bold">b</text>
<text x="341.00" y="29.80" font-size="9" fill="#333" text-anchor="middle" font-style="italic">v</text>
<rect x="214.55" y="48.25" width="1.5" height="1.5" fill="#2a6a36"/>
<rect x="217.85" y="48.25" width="1.5" height="1.5" fill="#2a6a36"/>
<path d="M220.3,49.00 L262,49.00 Q266,49.00 268,48.60" stroke="#2a6a36" stroke-width="1.6" fill="none"/>
<rect x="304.75" y="47.85" width="1.5" height="1.5" fill="#2a6a36"/>
<path d="M307.8,48.60 L358.9,48.50" stroke="#2a6a36" stroke-width="1.6" fill="none"/>
<rect x="214.55" y="80.15" width="1.5" height="1.5" fill="#ea1c3c"/>
<rect x="217.85" y="80.15" width="1.5" height="1.5" fill="#ea1c3c"/>
<path d="M220.3,80.90 L262,80.90 Q266,80.90 268,80.50" stroke="#ea1c3c" stroke-width="1.6" fill="none"/>
<rect x="304.75" y="79.25" width="1.5" height="1.5" fill="#ea1c3c"/>
<path d="M307.8,80.00 L358.9,79.90" stroke="#ea1c3c" stroke-width="1.6" fill="none"/>
<text x="307.51" y="45.56" font-size="7.8" fill="#2e7040" stroke="#2e7040" stroke-width="0.05" text-anchor="start" font-weight="normal" font-style="normal" textLength="41.16" lengthAdjust="spacingAndGlyphs" >25 <tspan dy="0.55" font-size="7.41">°</tspan><tspan dy="-0.55" dx="-0.78">C</tspan> <tspan fill="#222">0.001</tspan></text>
<text x="304.42" y="97.56" font-size="7.8" fill="#e8203a" stroke="#e8203a" stroke-width="0.05" text-anchor="start" font-weight="normal" font-style="normal" textLength="44.75" lengthAdjust="spacingAndGlyphs" >150 <tspan dy="0.55" font-size="7.41">°</tspan><tspan dy="-0.55" dx="-0.78">C</tspan> 0.001</text>
<text x="275.32" y="65.16" font-size="7.5" fill="#222" stroke="#222" stroke-width="0.18" text-anchor="start" font-weight="normal" font-style="normal" textLength="21.95" lengthAdjust="spacingAndGlyphs" >3 days</text>
<text x="278.60" y="74.36" font-size="7.5" fill="#222" stroke="#222" stroke-width="0.18" text-anchor="start" font-weight="normal" font-style="normal" textLength="17.16" lengthAdjust="spacingAndGlyphs" >at RT</text>
<rect x="212.5" y="147.5" width="151" height="109" fill="none" stroke="#8a8a8a" stroke-width="1"/>
<line x1="213.50" y1="256.50" x2="213.50" y2="254.30" stroke="#666" stroke-width="0.7" />
<line x1="221.48" y1="256.50" x2="221.48" y2="255.20" stroke="#666" stroke-width="0.7" />
<line x1="226.14" y1="256.50" x2="226.14" y2="255.20" stroke="#666" stroke-width="0.7" />
<line x1="229.45" y1="256.50" x2="229.45" y2="255.20" stroke="#666" stroke-width="0.7" />
<line x1="232.02" y1="256.50" x2="232.02" y2="255.20" stroke="#666" stroke-width="0.7" />
<line x1="234.12" y1="256.50" x2="234.12" y2="255.20" stroke="#666" stroke-width="0.7" />
<line x1="235.90" y1="256.50" x2="235.90" y2="255.20" stroke="#666" stroke-width="0.7" />
<line x1="237.43" y1="256.50" x2="237.43" y2="255.20" stroke="#666" stroke-width="0.7" />
<line x1="238.79" y1="256.50" x2="238.79" y2="255.20" stroke="#666" stroke-width="0.7" />
<line x1="240.00" y1="256.50" x2="240.00" y2="254.30" stroke="#666" stroke-width="0.7" />
<line x1="247.98" y1="256.50" x2="247.98" y2="255.20" stroke="#666" stroke-width="0.7" />
<line x1="252.64" y1="256.50" x2="252.64" y2="255.20" stroke="#666" stroke-width="0.7" />
<line x1="255.95" y1="256.50" x2="255.95" y2="255.20" stroke="#666" stroke-width="0.7" />
<line x1="258.52" y1="256.50" x2="258.52" y2="255.20" stroke="#666" stroke-width="0.7" />
<line x1="260.62" y1="256.50" x2="260.62" y2="255.20" stroke="#666" stroke-width="0.7" />
<line x1="262.40" y1="256.50" x2="262.40" y2="255.20" stroke="#666" stroke-width="0.7" />
<line x1="263.93" y1="256.50" x2="263.93" y2="255.20" stroke="#666" stroke-width="0.7" />
<line x1="265.29" y1="256.50" x2="265.29" y2="255.20" stroke="#666" stroke-width="0.7" />
<line x1="266.50" y1="256.50" x2="266.50" y2="254.30" stroke="#666" stroke-width="0.7" />
<line x1="274.48" y1="256.50" x2="274.48" y2="255.20" stroke="#666" stroke-width="0.7" />
<line x1="279.14" y1="256.50" x2="279.14" y2="255.20" stroke="#666" stroke-width="0.7" />
<line x1="282.45" y1="256.50" x2="282.45" y2="255.20" stroke="#666" stroke-width="0.7" />
<line x1="285.02" y1="256.50" x2="285.02" y2="255.20" stroke="#666" stroke-width="0.7" />
<line x1="287.12" y1="256.50" x2="287.12" y2="255.20" stroke="#666" stroke-width="0.7" />
<line x1="288.90" y1="256.50" x2="288.90" y2="255.20" stroke="#666" stroke-width="0.7" />
<line x1="290.43" y1="256.50" x2="290.43" y2="255.20" stroke="#666" stroke-width="0.7" />
<line x1="291.79" y1="256.50" x2="291.79" y2="255.20" stroke="#666" stroke-width="0.7" />
<line x1="293.00" y1="256.50" x2="293.00" y2="254.30" stroke="#666" stroke-width="0.7" />
<line x1="300.98" y1="256.50" x2="300.98" y2="255.20" stroke="#666" stroke-width="0.7" />
<line x1="305.64" y1="256.50" x2="305.64" y2="255.20" stroke="#666" stroke-width="0.7" />
<line x1="308.95" y1="256.50" x2="308.95" y2="255.20" stroke="#666" stroke-width="0.7" />
<line x1="311.52" y1="256.50" x2="311.52" y2="255.20" stroke="#666" stroke-width="0.7" />
<line x1="313.62" y1="256.50" x2="313.62" y2="255.20" stroke="#666" stroke-width="0.7" />
<line x1="315.40" y1="256.50" x2="315.40" y2="255.20" stroke="#666" stroke-width="0.7" />
<line x1="316.93" y1="256.50" x2="316.93" y2="255.20" stroke="#666" stroke-width="0.7" />
<line x1="318.29" y1="256.50" x2="318.29" y2="255.20" stroke="#666" stroke-width="0.7" />
<line x1="319.50" y1="256.50" x2="319.50" y2="254.30" stroke="#666" stroke-width="0.7" />
<line x1="327.48" y1="256.50" x2="327.48" y2="255.20" stroke="#666" stroke-width="0.7" />
<line x1="332.14" y1="256.50" x2="332.14" y2="255.20" stroke="#666" stroke-width="0.7" />
<line x1="335.45" y1="256.50" x2="335.45" y2="255.20" stroke="#666" stroke-width="0.7" />
<line x1="338.02" y1="256.50" x2="338.02" y2="255.20" stroke="#666" stroke-width="0.7" />
<line x1="340.12" y1="256.50" x2="340.12" y2="255.20" stroke="#666" stroke-width="0.7" />
<line x1="341.90" y1="256.50" x2="341.90" y2="255.20" stroke="#666" stroke-width="0.7" />
<line x1="343.43" y1="256.50" x2="343.43" y2="255.20" stroke="#666" stroke-width="0.7" />
<line x1="344.79" y1="256.50" x2="344.79" y2="255.20" stroke="#666" stroke-width="0.7" />
<line x1="346.00" y1="256.50" x2="346.00" y2="254.30" stroke="#666" stroke-width="0.7" />
<line x1="353.98" y1="256.50" x2="353.98" y2="255.20" stroke="#666" stroke-width="0.7" />
<line x1="358.64" y1="256.50" x2="358.64" y2="255.20" stroke="#666" stroke-width="0.7" />
<line x1="361.95" y1="256.50" x2="361.95" y2="255.20" stroke="#666" stroke-width="0.7" />
<line x1="212.50" y1="254.67" x2="213.80" y2="254.67" stroke="#666" stroke-width="0.7" />
<line x1="212.50" y1="249.11" x2="213.80" y2="249.11" stroke="#666" stroke-width="0.7" />
<line x1="212.50" y1="244.80" x2="213.80" y2="244.80" stroke="#666" stroke-width="0.7" />
<line x1="212.50" y1="241.27" x2="213.80" y2="241.27" stroke="#666" stroke-width="0.7" />
<line x1="212.50" y1="238.29" x2="213.80" y2="238.29" stroke="#666" stroke-width="0.7" />
<line x1="212.50" y1="235.71" x2="213.80" y2="235.71" stroke="#666" stroke-width="0.7" />
<line x1="212.50" y1="233.44" x2="213.80" y2="233.44" stroke="#666" stroke-width="0.7" />
<line x1="212.50" y1="231.40" x2="214.70" y2="231.40" stroke="#666" stroke-width="0.7" />
<line x1="212.50" y1="218.00" x2="213.80" y2="218.00" stroke="#666" stroke-width="0.7" />
<line x1="212.50" y1="210.17" x2="213.80" y2="210.17" stroke="#666" stroke-width="0.7" />
<line x1="212.50" y1="204.61" x2="213.80" y2="204.61" stroke="#666" stroke-width="0.7" />
<line x1="212.50" y1="200.30" x2="213.80" y2="200.30" stroke="#666" stroke-width="0.7" />
<line x1="212.50" y1="196.77" x2="213.80" y2="196.77" stroke="#666" stroke-width="0.7" />
<line x1="212.50" y1="193.79" x2="213.80" y2="193.79" stroke="#666" stroke-width="0.7" />
<line x1="212.50" y1="191.21" x2="213.80" y2="191.21" stroke="#666" stroke-width="0.7" />
<line x1="212.50" y1="188.94" x2="213.80" y2="188.94" stroke="#666" stroke-width="0.7" />
<line x1="212.50" y1="186.90" x2="214.70" y2="186.90" stroke="#666" stroke-width="0.7" />
<line x1="212.50" y1="173.50" x2="213.80" y2="173.50" stroke="#666" stroke-width="0.7" />
<line x1="212.50" y1="165.67" x2="213.80" y2="165.67" stroke="#666" stroke-width="0.7" />
<line x1="212.50" y1="160.11" x2="213.80" y2="160.11" stroke="#666" stroke-width="0.7" />
<line x1="212.50" y1="155.80" x2="213.80" y2="155.80" stroke="#666" stroke-width="0.7" />
<line x1="212.50" y1="152.27" x2="213.80" y2="152.27" stroke="#666" stroke-width="0.7" />
<line x1="212.50" y1="149.29" x2="213.80" y2="149.29" stroke="#666" stroke-width="0.7" />
<text transform="translate(214.50,266.85) scale(1.030,1)" font-size="7.2" fill="#333" stroke="#333" stroke-width="0.18" text-anchor="middle">10<tspan font-size="4.32" dy="-3.60">0</tspan></text>
<text transform="translate(241.00,266.85) scale(1.030,1)" font-size="7.2" fill="#333" stroke="#333" stroke-width="0.18" text-anchor="middle">10<tspan font-size="4.32" dy="-3.60">1</tspan></text>
<text transform="translate(267.50,266.85) scale(1.030,1)" font-size="7.2" fill="#333" stroke="#333" stroke-width="0.18" text-anchor="middle">10<tspan font-size="4.32" dy="-3.60">2</tspan></text>
<text transform="translate(294.00,266.85) scale(1.030,1)" font-size="7.2" fill="#333" stroke="#333" stroke-width="0.18" text-anchor="middle">10<tspan font-size="4.32" dy="-3.60">3</tspan></text>
<text transform="translate(320.50,266.85) scale(1.030,1)" font-size="7.2" fill="#333" stroke="#333" stroke-width="0.18" text-anchor="middle">10<tspan font-size="4.32" dy="-3.60">4</tspan></text>
<text transform="translate(347.00,266.85) scale(1.030,1)" font-size="7.2" fill="#333" stroke="#333" stroke-width="0.18" text-anchor="middle">10<tspan font-size="4.32" dy="-3.60">5</tspan></text>
<text transform="translate(203.50,189.45) scale(1.030,1)" font-size="7.2" fill="#333" stroke="#333" stroke-width="0.18" text-anchor="middle">10<tspan font-size="4.32" dy="-3.60">5</tspan></text>
<text transform="translate(203.50,233.95) scale(1.030,1)" font-size="7.2" fill="#333" stroke="#333" stroke-width="0.18" text-anchor="middle">10<tspan font-size="4.32" dy="-3.60">4</tspan></text>
<text transform="translate(218.11,157.90) scale(1.134,1)" font-size="12.6" fill="#000" stroke="#000" stroke-width="0.35" font-weight="bold">d</text>
<text x="347.70" y="162.80" font-size="9" fill="#333" text-anchor="middle" font-style="italic">v</text>
<rect x="219.70" y="180.40" width="1.6" height="1.6" fill="#1aa2f0"/>
<rect x="227.70" y="180.40" width="1.6" height="1.6" fill="#1aa2f0"/>
<rect x="232.00" y="180.40" width="1.6" height="1.6" fill="#1aa2f0"/>
<rect x="235.50" y="180.40" width="1.6" height="1.6" fill="#1aa2f0"/>
<path d="M238.00,181.20 Q272.70,181.08 307.40,180.60" stroke="#1aa2f0" stroke-width="1.7" fill="none"/>
<rect x="219.70" y="241.00" width="1.6" height="1.6" fill="#f01414"/>
<rect x="227.70" y="241.00" width="1.6" height="1.6" fill="#f01414"/>
<rect x="232.00" y="241.00" width="1.6" height="1.6" fill="#f01414"/>
<rect x="235.50" y="241.00" width="1.6" height="1.6" fill="#f01414"/>
<path d="M238.00,241.80 Q272.70,241.70 307.40,241.30" stroke="#f01414" stroke-width="1.7" fill="none"/>
<text x="310.66" y="180.55" font-size="7.2" fill="#30b0f0" stroke="#30b0f0" stroke-width="0.05" text-anchor="start" font-weight="normal" font-style="normal" textLength="48.02" lengthAdjust="spacingAndGlyphs" >-120 <tspan dy="0.50" font-size="6.84">°</tspan><tspan dy="-0.50" dx="-0.72">C</tspan> 0.001</text>
<text x="312.72" y="248.55" font-size="7.2" fill="#f02040" stroke="#f02040" stroke-width="0.05" text-anchor="start" font-weight="normal" font-style="normal" textLength="44.65" lengthAdjust="spacingAndGlyphs" >120 <tspan dy="0.50" font-size="6.84">°</tspan><tspan dy="-0.50" dx="-0.72">C</tspan> 0.001</text>
<rect x="236.65" y="186.20" width="4.7" height="41.40" rx="2.35" fill="#3a3a3a"/>
<circle cx="239.00" cy="227.60" r="5.7" fill="#3a3a3a"/>
<rect x="237.35" y="186.90" width="3.3" height="41.40" rx="1.65" fill="#fff"/>
<circle cx="239.00" cy="227.60" r="4.85" fill="#fff"/>
<rect x="237.65" y="187.30" width="2.7" height="41.40" rx="1.3" fill="url(#gcold)"/>
<circle cx="239.00" cy="227.80" r="4.05" fill="#1cb0ee"/>
<rect x="332.35" y="186.60" width="4.7" height="39.80" rx="2.35" fill="#3a3a3a"/>
<circle cx="334.70" cy="226.40" r="5.7" fill="#3a3a3a"/>
<rect x="333.05" y="187.30" width="3.3" height="39.80" rx="1.65" fill="#fff"/>
<circle cx="334.70" cy="226.40" r="4.85" fill="#fff"/>
<rect x="333.35" y="187.70" width="2.7" height="39.80" rx="1.3" fill="url(#ghot)"/>
<circle cx="334.70" cy="226.60" r="4.05" fill="#f6b46a"/>
<polygon points="260.45,207.92 260.86,207.35 261.36,206.79 261.95,206.25 262.64,205.72 263.42,205.22 264.28,204.74 265.22,204.28 266.24,203.86 267.32,203.47 268.47,203.11 269.67,202.79 270.92,202.51 272.23,202.27 273.57,202.06 274.95,201.90 276.36,201.79 277.79,201.71 279.25,201.69 280.72,201.71 282.20,201.78 283.68,201.89 285.16,202.06 286.64,202.28 288.10,202.56 289.55,202.89 290.97,203.27 292.36,203.71 293.72,204.21 295.04,204.76 296.32,205.38 297.54,206.05 298.71,206.78 299.81,207.58 300.84,208.43 301.80,209.34 302.67,210.31 303.46,211.34 304.16,212.42 304.76,213.56 308.04,211.64 307.11,210.37 306.10,209.19 305.03,208.09 303.90,207.07 302.71,206.12 301.46,205.25 300.17,204.45 298.83,203.71 297.45,203.04 296.04,202.43 294.59,201.88 293.11,201.40 291.61,200.97 290.09,200.60 288.55,200.28 287.00,200.02 285.44,199.81 283.88,199.65 282.32,199.55 280.77,199.49 279.23,199.49 277.71,199.53 276.20,199.62 274.72,199.76 273.28,199.94 271.86,200.16 270.49,200.43 269.16,200.74 267.88,201.09 266.65,201.49 265.48,201.92 264.37,202.40 263.32,202.91 262.35,203.46 261.46,204.06 260.64,204.70 259.91,205.38 259.28,206.11 258.75,206.88" fill="#ff3a10"/>
<polygon points="257.38,213.04 258.09,213.97 258.88,214.85 259.76,215.68 260.71,216.47 261.73,217.20 262.81,217.89 263.96,218.54 265.16,219.15 266.41,219.72 267.70,220.24 269.05,220.73 270.43,221.18 271.84,221.59 273.29,221.96 274.76,222.30 276.25,222.59 277.76,222.84 279.29,223.06 280.82,223.23 282.36,223.37 283.90,223.46 285.44,223.52 286.97,223.53 288.48,223.50 289.98,223.43 291.45,223.31 292.90,223.16 294.32,222.96 295.71,222.71 297.05,222.42 298.35,222.09 299.60,221.71 300.80,221.28 301.95,220.80 303.03,220.27 304.04,219.69 304.99,219.06 305.85,218.38 306.64,217.64 305.36,216.36 304.68,216.96 303.91,217.52 303.06,218.04 302.14,218.52 301.15,218.96 300.10,219.36 298.98,219.71 297.81,220.03 296.58,220.30 295.31,220.54 294.00,220.73 292.65,220.88 291.27,220.99 289.86,221.06 288.43,221.08 286.99,221.07 285.53,221.02 284.06,220.93 282.59,220.80 281.12,220.63 279.66,220.42 278.21,220.18 276.78,219.90 275.37,219.58 273.99,219.23 272.63,218.84 271.32,218.41 270.04,217.96 268.82,217.47 267.64,216.95 266.52,216.40 265.47,215.82 264.48,215.22 263.56,214.59 262.72,213.93 261.97,213.26 261.30,212.57 260.71,211.87 260.22,211.16" fill="#1aaaf0"/>
<text x="285.05" y="199.08" font-size="7.0" fill="#f03030" stroke="#f03030" stroke-width="0.05" text-anchor="start" font-weight="normal" font-style="normal" textLength="27.15" lengthAdjust="spacingAndGlyphs" >Heating</text>
<text x="263.52" y="213.71" font-size="6.8" fill="#222" stroke="#222" stroke-width="0.18" text-anchor="start" font-weight="normal" font-style="normal" textLength="32.06" lengthAdjust="spacingAndGlyphs" >16 cycles</text>
<text x="258.29" y="234.68" font-size="7.0" fill="#30b0f0" stroke="#30b0f0" stroke-width="0.05" text-anchor="start" font-weight="normal" font-style="normal" textLength="27.53" lengthAdjust="spacingAndGlyphs" >Cooling</text>
<text transform="translate(8.7,183.3) rotate(-90)" font-size="10" fill="#222" textLength="99" lengthAdjust="spacingAndGlyphs">Sheet resistance (Ω sq<tspan font-size="6" dy="-4.6">-1</tspan><tspan dy="4.6">)</tspan></text>
<text x="180.29" y="283.27" font-size="9.8" fill="#222" stroke="#222" stroke-width="0.18" text-anchor="start" font-weight="normal" font-style="normal" textLength="35.01" lengthAdjust="spacingAndGlyphs" >Time (s)</text>
<g filter="url(#blur4)">
<ellipse cx="549.7" cy="115.2" rx="95" ry="31" transform="rotate(-23.5 549.7 115.2)" fill="#c6e8fb"/>

<ellipse cx="596.5" cy="165" rx="15" ry="4.5" fill="#b4e6b4"/>
<ellipse cx="598" cy="72" rx="17" ry="8" transform="rotate(-42 598 72)" fill="#f6d0a8"/>
</g>
<g filter="url(#blur2)" opacity="0.9">
<ellipse cx="597" cy="94" rx="25" ry="7.5" fill="#eea4ae"/>
<path d="M580,93 L623.5,53" stroke="#f7bcc0" stroke-width="6.5" stroke-linecap="round"/>
<path d="M572.5,166 L621,128.5" stroke="#f8bcc0" stroke-width="8.5" stroke-linecap="round"/>
<path d="M574,231 L618,200" stroke="#fad0d4" stroke-width="5" stroke-linecap="round"/>
</g>
<rect x="422" y="237.9" width="257" height="5.2" fill="#fbc2c8"/>
<circle cx="451.8" cy="107.6" r="9.5" fill="url(#gsb)"/>
<ellipse cx="586.4" cy="195.7" rx="10" ry="19.5" fill="#c8e7fa" filter="url(#blur1)"/>
<rect x="421.5" y="47.5" width="258" height="207" fill="none" stroke="#8a8a8a" stroke-width="1"/>
<line x1="421.50" y1="241.20" x2="424.80" y2="241.20" stroke="#999" stroke-width="0.8" />
<text x="416.00" y="243.85" font-size="7.5" fill="#333" stroke="#333" stroke-width="0.18" text-anchor="end" font-weight="normal" font-style="normal" >0</text>
<line x1="421.50" y1="227.84" x2="424.80" y2="227.84" stroke="#999" stroke-width="0.8" />
<text x="416.00" y="230.49" font-size="7.5" fill="#333" stroke="#333" stroke-width="0.18" text-anchor="end" font-weight="normal" font-style="normal" >0.01</text>
<line x1="421.50" y1="214.48" x2="424.80" y2="214.48" stroke="#999" stroke-width="0.8" />
<text x="416.00" y="217.13" font-size="7.5" fill="#333" stroke="#333" stroke-width="0.18" text-anchor="end" font-weight="normal" font-style="normal" >0.02</text>
<line x1="421.50" y1="201.12" x2="424.80" y2="201.12" stroke="#999" stroke-width="0.8" />
<text x="416.00" y="203.78" font-size="7.5" fill="#333" stroke="#333" stroke-width="0.18" text-anchor="end" font-weight="normal" font-style="normal" >0.03</text>
<line x1="421.50" y1="187.76" x2="424.80" y2="187.76" stroke="#999" stroke-width="0.8" />
<text x="416.00" y="190.41" font-size="7.5" fill="#333" stroke="#333" stroke-width="0.18" text-anchor="end" font-weight="normal" font-style="normal" >0.04</text>
<line x1="421.50" y1="174.40" x2="424.80" y2="174.40" stroke="#999" stroke-width="0.8" />
<text x="416.00" y="177.05" font-size="7.5" fill="#333" stroke="#333" stroke-width="0.18" text-anchor="end" font-weight="normal" font-style="normal" >0.05</text>
<line x1="421.50" y1="161.04" x2="424.80" y2="161.04" stroke="#999" stroke-width="0.8" />
<text x="416.00" y="163.69" font-size="7.5" fill="#333" stroke="#333" stroke-width="0.18" text-anchor="end" font-weight="normal" font-style="normal" >0.06</text>
<line x1="421.50" y1="147.68" x2="424.80" y2="147.68" stroke="#999" stroke-width="0.8" />
<text x="416.00" y="150.33" font-size="7.5" fill="#333" stroke="#333" stroke-width="0.18" text-anchor="end" font-weight="normal" font-style="normal" >0.07</text>
<line x1="421.50" y1="134.32" x2="424.80" y2="134.32" stroke="#999" stroke-width="0.8" />
<text x="416.00" y="136.97" font-size="7.5" fill="#333" stroke="#333" stroke-width="0.18" text-anchor="end" font-weight="normal" font-style="normal" >0.08</text>
<line x1="421.50" y1="120.96" x2="424.80" y2="120.96" stroke="#999" stroke-width="0.8" />
<text x="416.00" y="123.61" font-size="7.5" fill="#333" stroke="#333" stroke-width="0.18" text-anchor="end" font-weight="normal" font-style="normal" >0.09</text>
<line x1="421.50" y1="107.60" x2="424.80" y2="107.60" stroke="#999" stroke-width="0.8" />
<text x="416.00" y="110.25" font-size="7.5" fill="#333" stroke="#333" stroke-width="0.18" text-anchor="end" font-weight="normal" font-style="normal" >0.10</text>
<line x1="421.50" y1="94.24" x2="424.80" y2="94.24" stroke="#999" stroke-width="0.8" />
<text x="416.00" y="96.89" font-size="7.5" fill="#333" stroke="#333" stroke-width="0.18" text-anchor="end" font-weight="normal" font-style="normal" >0.11</text>
<line x1="421.50" y1="80.88" x2="424.80" y2="80.88" stroke="#999" stroke-width="0.8" />
<text x="416.00" y="83.53" font-size="7.5" fill="#333" stroke="#333" stroke-width="0.18" text-anchor="end" font-weight="normal" font-style="normal" >0.12</text>
<line x1="421.50" y1="67.52" x2="424.80" y2="67.52" stroke="#999" stroke-width="0.8" />
<text x="416.00" y="70.17" font-size="7.5" fill="#333" stroke="#333" stroke-width="0.18" text-anchor="end" font-weight="normal" font-style="normal" >0.13</text>
<line x1="421.50" y1="54.16" x2="424.80" y2="54.16" stroke="#999" stroke-width="0.8" />
<text x="416.00" y="56.81" font-size="7.5" fill="#333" stroke="#333" stroke-width="0.18" text-anchor="end" font-weight="normal" font-style="normal" >0.14</text>
<line x1="435.90" y1="254.50" x2="435.90" y2="251.20" stroke="#888" stroke-width="0.8" />
<g transform="translate(435.90,0) scale(1.04,1)">
<text x="0.00" y="264.50" font-size="7.9" fill="#333" stroke="#333" stroke-width="0.18" text-anchor="middle" font-weight="normal" font-style="normal" >-200</text>
</g>
<line x1="466.18" y1="254.50" x2="466.18" y2="251.20" stroke="#888" stroke-width="0.8" />
<g transform="translate(466.18,0) scale(1.04,1)">
<text x="0.00" y="264.50" font-size="7.9" fill="#333" stroke="#333" stroke-width="0.18" text-anchor="middle" font-weight="normal" font-style="normal" >-150</text>
</g>
<line x1="496.45" y1="254.50" x2="496.45" y2="251.20" stroke="#888" stroke-width="0.8" />
<g transform="translate(496.45,0) scale(1.04,1)">
<text x="0.00" y="264.50" font-size="7.9" fill="#333" stroke="#333" stroke-width="0.18" text-anchor="middle" font-weight="normal" font-style="normal" >-100</text>
</g>
<line x1="526.73" y1="254.50" x2="526.73" y2="251.20" stroke="#888" stroke-width="0.8" />
<g transform="translate(526.73,0) scale(1.04,1)">
<text x="0.00" y="264.50" font-size="7.9" fill="#333" stroke="#333" stroke-width="0.18" text-anchor="middle" font-weight="normal" font-style="normal" >-50</text>
</g>
<line x1="557.00" y1="254.50" x2="557.00" y2="251.20" stroke="#888" stroke-width="0.8" />
<g transform="translate(557.00,0) scale(1.04,1)">
<text x="0.00" y="264.50" font-size="7.9" fill="#333" stroke="#333" stroke-width="0.18" text-anchor="middle" font-weight="normal" font-style="normal" >0</text>
</g>
<line x1="587.27" y1="254.50" x2="587.27" y2="251.20" stroke="#888" stroke-width="0.8" />
<g transform="translate(587.27,0) scale(1.04,1)">
<text x="0.00" y="264.50" font-size="7.9" fill="#333" stroke="#333" stroke-width="0.18" text-anchor="middle" font-weight="normal" font-style="normal" >50</text>
</g>
<line x1="617.55" y1="254.50" x2="617.55" y2="251.20" stroke="#888" stroke-width="0.8" />
<g transform="translate(617.55,0) scale(1.04,1)">
<text x="0.00" y="264.50" font-size="7.9" fill="#333" stroke="#333" stroke-width="0.18" text-anchor="middle" font-weight="normal" font-style="normal" >100</text>
</g>
<line x1="647.83" y1="254.50" x2="647.83" y2="251.20" stroke="#888" stroke-width="0.8" />
<g transform="translate(647.83,0) scale(1.04,1)">
<text x="0.00" y="264.50" font-size="7.9" fill="#333" stroke="#333" stroke-width="0.18" text-anchor="middle" font-weight="normal" font-style="normal" >150</text>
</g>
<line x1="678.10" y1="254.50" x2="678.10" y2="251.20" stroke="#888" stroke-width="0.8" />
<g transform="translate(678.10,0) scale(1.04,1)">
<text x="0.00" y="264.50" font-size="7.9" fill="#333" stroke="#333" stroke-width="0.18" text-anchor="middle" font-weight="normal" font-style="normal" >200</text>
</g>
<text x="498.34" y="277.05" font-size="8.9" fill="#222" stroke="#222" stroke-width="0.18" text-anchor="start" font-weight="normal" font-style="normal" textLength="103.44" lengthAdjust="spacingAndGlyphs" >Holding temperature (<tspan dy="0.62" font-size="8.46">°</tspan><tspan dy="-0.62" dx="-0.89">C</tspan>)</text>
<text transform="translate(392.4,173.3) rotate(-90)" font-size="9" fill="#222" textLength="45.6" lengthAdjust="spacingAndGlyphs"><tspan font-style="italic">v</tspan> of a-PCM</text>
<polygon points="465.5,145.0 468.3,147.8 465.5,150.60000000000002 462.7,147.8" fill="#96cef6"/>
<polygon points="481,131.5 483.8,134.3 481,137.10000000000002 478.2,134.3" fill="#96cef6"/>
<polygon points="496.2,127.3 499.0,130.1 496.2,132.9 493.4,130.1" fill="#96cef6"/>
<polygon points="511.4,108.8 514.1999999999999,111.6 511.4,114.39999999999999 508.59999999999997,111.6" fill="#96cef6"/>
<polygon points="526.5,97.8 529.3,100.6 526.5,103.39999999999999 523.7,100.6" fill="#96cef6"/>
<polygon points="542.1,91.5 544.9,94.3 542.1,97.1 539.3000000000001,94.3" fill="#96cef6"/>
<polygon points="557,91.5 559.8,94.3 557,97.1 554.2,94.3" fill="#96cef6"/>
<polygon points="571.3,69.60000000000001 574.0999999999999,72.4 571.3,75.2 568.5,72.4" fill="#96cef6"/>
<polygon points="599.5,98.2 602.3,101 599.5,103.8 596.7,101" fill="#96cef6"/>
<polygon points="587.2,106.10000000000001 590.0,108.9 587.2,111.7 584.4000000000001,108.9" fill="#96cef6"/>
<polygon points="602.2,104.9 605.0,107.7 602.2,110.5 599.4000000000001,107.7" fill="#96cef6"/>
<polygon points="618,104.9 620.8,107.7 618,110.5 615.2,107.7" fill="#96cef6"/>
<polygon points="593.4,91.8 595.8,94.2 593.4,96.60000000000001 591.0,94.2" fill="#c8b4dc"/>
<polygon points="572.3,91.6 574.8,94.1 572.3,96.6 569.8,94.1" fill="#d86878"/>
<polygon points="587.5,91.6 590.0,94.1 587.5,96.6 585.0,94.1" fill="#d86878"/>
<polygon points="617.9,91.6 620.4,94.1 617.9,96.6 615.4,94.1" fill="#d86878"/>
<polygon points="605.6,105.1 608.1,107.6 605.6,110.1 603.1,107.6" fill="#d86878"/>
<polygon points="617.90,51.30 620.32,52.70 620.32,55.50 617.90,56.90 615.48,55.50 615.48,52.70" fill="#f01010"/>
<polygon points="605.60,64.50 608.02,65.90 608.02,68.70 605.60,70.10 603.18,68.70 603.18,65.90" fill="#f02828"/>
<polygon points="587.20,77.90 589.62,79.30 589.62,82.10 587.20,83.50 584.78,82.10 584.78,79.30" fill="#d86070"/>
<polygon points="593.40,75.10 595.65,76.40 595.65,79.00 593.40,80.30 591.15,79.00 591.15,76.40" fill="#eca080"/>
<polygon points="599.50,73.90 601.75,75.20 601.75,77.80 599.50,79.10 597.25,77.80 597.25,75.20" fill="#eca080"/>
<polygon points="453.86,104.89999999999999 449.0,107.6 453.86,110.3" fill="#6a1aa0"/>
<text x="452.40" y="95.22" font-size="7.4" fill="#b07090" stroke="#b07090" stroke-width="0.05" text-anchor="middle" font-weight="normal" font-style="normal" >Sb</text>
<polygon points="570.0,161.3 575.4,164.3 570.0,167.3" fill="#f01010"/>
<polygon points="585.6,142.1 591.0,145.1 585.6,148.1" fill="#f01010"/>
<polygon points="602.9,129.8 608.3,132.8 602.9,135.8" fill="#f01010"/>
<polygon points="615.2,126.1 620.6,129.1 615.2,132.1" fill="#f01010"/>
<circle cx="572.4" cy="151.9" r="2.1" fill="#64bc64"/>
<circle cx="587.3" cy="165.2" r="2.3" fill="#5cc05c"/>
<circle cx="593.5" cy="163.8" r="2.3" fill="#5cc05c"/>
<circle cx="599.6" cy="165.2" r="2.3" fill="#5cc05c"/>
<circle cx="605.5" cy="165.2" r="2.3" fill="#5cc05c"/>
<polygon points="587.5,178.0 589.8,180.3 587.5,182.60000000000002 585.2,180.3" fill="#a0d4f4"/>
<polygon points="587.5,184.39999999999998 589.8,186.7 587.5,189.0 585.2,186.7" fill="#a0d4f4"/>
<polygon points="572.4,207.6 574.8,210 572.4,212.4 570.0,210" fill="#96cef6"/>
<rect x="615.4" y="199.0" width="4.4" height="4.4" fill="#f01010"/>
<rect x="603.0999999999999" y="215.0" width="4.4" height="4.4" fill="#f01010"/>
<rect x="584.8" y="221.8" width="4.4" height="4.4" fill="#f01010"/>
<circle cx="572.4" cy="202.2" r="1.8" fill="#50b050"/>
<circle cx="572.3" cy="228.9" r="1.8" fill="#70c070"/>
<rect x="570.3" y="231.2" width="4.0" height="4.0" fill="#f01010"/>
<polygon points="573.9,234.2 570.3,236.2 573.9,238.2" fill="#5a2090"/>
<rect x="579.5" y="229.2" width="3.6" height="3.6" fill="#1a8a2a"/>
<polygon points="587.1,208.4 589.5,210.8 587.1,213.20000000000002 584.7,210.8" fill="#a8d8f8"/>
<polygon points="435.20,236.90 436.23,239.38 438.91,239.59 436.87,241.34 437.49,243.96 435.20,242.56 432.91,243.96 433.53,241.34 431.49,239.59 434.17,239.38" fill="#f01010"/>
<polygon points="465.40,236.90 466.43,239.38 469.11,239.59 467.07,241.34 467.69,243.96 465.40,242.56 463.11,243.96 463.73,241.34 461.69,239.59 464.37,239.38" fill="#f01010"/>
<polygon points="496.10,236.90 497.13,239.38 499.81,239.59 497.77,241.34 498.39,243.96 496.10,242.56 493.81,243.96 494.43,241.34 492.39,239.59 495.07,239.38" fill="#f01010"/>
<polygon points="526.40,236.90 527.43,239.38 530.11,239.59 528.07,241.34 528.69,243.96 526.40,242.56 524.11,243.96 524.73,241.34 522.69,239.59 525.37,239.38" fill="#f01010"/>
<polygon points="541.60,236.90 542.63,239.38 545.31,239.59 543.27,241.34 543.89,243.96 541.60,242.56 539.31,243.96 539.93,241.34 537.89,239.59 540.57,239.38" fill="#f01010"/>
<polygon points="556.80,236.90 557.83,239.38 560.51,239.59 558.47,241.34 559.09,243.96 556.80,242.56 554.51,243.96 555.13,241.34 553.09,239.59 555.77,239.38" fill="#f01010"/>
<polygon points="572.40,236.90 573.43,239.38 576.11,239.59 574.07,241.34 574.69,243.96 572.40,242.56 570.11,243.96 570.73,241.34 568.69,239.59 571.37,239.38" fill="#f01010"/>
<polygon points="587.00,236.90 588.03,239.38 590.71,239.59 588.67,241.34 589.29,243.96 587.00,242.56 584.71,243.96 585.33,241.34 583.29,239.59 585.97,239.38" fill="#f01010"/>
<polygon points="605.50,234.20 606.53,236.68 609.21,236.89 607.17,238.64 607.79,241.26 605.50,239.85 603.21,241.26 603.83,238.64 601.79,236.89 604.47,236.68" fill="#f01010"/>
<polygon points="617.70,233.50 618.73,235.98 621.41,236.19 619.37,237.94 619.99,240.56 617.70,239.16 615.41,240.56 616.03,237.94 613.99,236.19 616.67,235.98" fill="#f01010"/>
<polygon points="647.80,234.20 648.83,236.68 651.51,236.89 649.47,238.64 650.09,241.26 647.80,239.85 645.51,241.26 646.13,238.64 644.09,236.89 646.77,236.68" fill="#f01010"/>
<polygon points="657.00,231.30 658.03,233.78 660.71,233.99 658.67,235.74 659.29,238.36 657.00,236.95 654.71,238.36 655.33,235.74 653.29,233.99 655.97,233.78" fill="#f01010"/>
<text x="630.61" y="65.89" font-size="7.6" fill="#f01818" stroke="#f01818" stroke-width="0.05" text-anchor="start" font-weight="normal" font-style="normal" textLength="18.74" lengthAdjust="spacingAndGlyphs" >GeTe</text>
<text x="620.91" y="83.99" font-size="7.6" fill="#f0a868" stroke="#f0a868" stroke-width="0.05" text-anchor="start" font-weight="normal" font-style="normal" textLength="18.74" lengthAdjust="spacingAndGlyphs" >GeTe</text>
<text x="540.64" y="74.69" font-size="7.6" fill="#5ab8f0" stroke="#5ab8f0" stroke-width="0.05" text-anchor="start" font-weight="normal" font-style="normal" textLength="26.52" lengthAdjust="spacingAndGlyphs" >Ge-GST</text>
<text x="635.65" y="111.49" font-size="7.6" fill="#f01818" stroke="#f01818" stroke-width="0.05" text-anchor="start" font-weight="normal" font-style="normal" textLength="14.51" lengthAdjust="spacingAndGlyphs" >GST</text>
<text x="536.65" y="124.39" font-size="7.6" fill="#5ab8f0" stroke="#5ab8f0" stroke-width="0.05" text-anchor="start" font-weight="normal" font-style="normal" textLength="14.51" lengthAdjust="spacingAndGlyphs" >GST</text>
<text x="630.66" y="134.49" font-size="7.6" fill="#f01818" stroke="#f01818" stroke-width="0.05" text-anchor="start" font-weight="normal" font-style="normal" textLength="23.85" lengthAdjust="spacingAndGlyphs" >Sb<tspan font-size="4.71" dy="2.28">2</tspan><tspan dy="-2.28">Se</tspan><tspan font-size="4.71" dy="2.28">3</tspan></text>
<text x="545.65" y="158.29" font-size="7.6" fill="#70c070" stroke="#70c070" stroke-width="0.05" text-anchor="start" font-weight="normal" font-style="normal" textLength="23.36" lengthAdjust="spacingAndGlyphs" >Sb<tspan font-size="4.71" dy="2.28">2</tspan><tspan dy="-2.28">Te</tspan><tspan font-size="4.71" dy="2.28">3</tspan></text>
<text x="620.39" y="170.19" font-size="7.6" fill="#80cc80" stroke="#80cc80" stroke-width="0.05" text-anchor="start" font-weight="normal" font-style="normal" textLength="14.77" lengthAdjust="spacingAndGlyphs" >AIST</text>
<text x="595.61" y="194.69" font-size="7.6" fill="#5ab8f0" stroke="#5ab8f0" stroke-width="0.05" text-anchor="start" font-weight="normal" font-style="normal" textLength="22.56" lengthAdjust="spacingAndGlyphs" >N-GST</text>
<text x="629.81" y="211.29" font-size="7.6" fill="#f01818" stroke="#f01818" stroke-width="0.05" text-anchor="start" font-weight="normal" font-style="normal" textLength="29.29" lengthAdjust="spacingAndGlyphs" >CrGeTe<tspan font-size="4.71" dy="2.28">3</tspan></text>
<text x="536.63" y="201.69" font-size="7.6" fill="#70c070" stroke="#70c070" stroke-width="0.05" text-anchor="start" font-weight="normal" font-style="normal" textLength="30.08" lengthAdjust="spacingAndGlyphs" >Y-Sb<tspan font-size="4.71" dy="2.28">2</tspan><tspan dy="-2.28">Te</tspan><tspan font-size="4.71" dy="2.28">3</tspan></text>
<text x="542.45" y="212.69" font-size="7.6" fill="#5ab8f0" stroke="#5ab8f0" stroke-width="0.05" text-anchor="start" font-weight="normal" font-style="normal" textLength="21.91" lengthAdjust="spacingAndGlyphs" >C-GST</text>
<text x="535.16" y="222.99" font-size="7.6" fill="#70c070" stroke="#70c070" stroke-width="0.05" text-anchor="start" font-weight="normal" font-style="normal" textLength="33.84" lengthAdjust="spacingAndGlyphs" >Sc-Sb<tspan font-size="4.71" dy="2.28">2</tspan><tspan dy="-2.28">Te</tspan><tspan font-size="4.71" dy="2.28">3</tspan></text>
<text x="561.73" y="231.49" font-size="7.6" fill="#a06080" stroke="#a06080" stroke-width="0.05" text-anchor="start" font-weight="normal" font-style="normal" textLength="7.32" lengthAdjust="spacingAndGlyphs" >Sb</text>
<text x="588.02" y="232.19" font-size="7.6" fill="#1a8a2a" stroke="#1a8a2a" stroke-width="0.05" text-anchor="start" font-weight="normal" font-style="normal" textLength="28.88" lengthAdjust="spacingAndGlyphs" >CrGeTe<tspan font-size="4.71" dy="2.28">3</tspan></text>
<text x="522.85" y="236.69" font-size="7.6" fill="#c4b4f0" stroke="#c4b4f0" stroke-width="0.05" text-anchor="start" font-weight="normal" font-style="normal" textLength="41.89" lengthAdjust="spacingAndGlyphs" >Sb<tspan font-size="4.71" dy="2.28">2</tspan><tspan dy="-2.28">Te</tspan><tspan font-size="4.71" dy="2.28">3</tspan><tspan dy="-2.28">/TiTe</tspan><tspan font-size="4.71" dy="2.28">2</tspan></text>
<text x="441.22" y="236.59" font-size="7.6" fill="#f01818" stroke="#f01818" stroke-width="0.05" text-anchor="start" font-weight="normal" font-style="normal" textLength="18.79" lengthAdjust="spacingAndGlyphs" >CrTe<tspan font-size="4.71" dy="2.28">3</tspan></text>
<text transform="translate(379.13,19.20) scale(1.336,1)" font-size="11.0" fill="#000" stroke="#000" stroke-width="0.35" font-weight="bold">e</text>
<text x="391.23" y="6.06" font-size="7.8" fill="#f03030" stroke="#f03030" stroke-width="0.05" text-anchor="start" font-weight="normal" font-style="normal" textLength="32.75" lengthAdjust="spacingAndGlyphs" >This work</text>
<polygon points="399.30,10.60 400.89,14.42 405.01,14.75 401.87,17.43 402.83,21.45 399.30,19.30 395.77,21.45 396.73,17.43 393.59,14.75 397.71,14.42" fill="#f01010"/>
<text x="409.41" y="19.73" font-size="8.0" fill="#f01818" stroke="#f01818" stroke-width="0.05" text-anchor="start" font-weight="normal" font-style="normal" textLength="19.10" lengthAdjust="spacingAndGlyphs" >CrTe<tspan font-size="4.96" dy="2.40">3</tspan></text>
<polygon points="452.4,12.000000000000002 457.0,16.6 452.4,21.200000000000003 447.79999999999995,16.6" fill="#f01010"/>
<text x="459.65" y="20.03" font-size="8.0" fill="#f01818" stroke="#f01818" stroke-width="0.05" text-anchor="start" font-weight="normal" font-style="normal" textLength="14.51" lengthAdjust="spacingAndGlyphs" >GST</text>
<polygon points="495.20,13.00 498.49,14.90 498.49,18.70 495.20,20.60 491.91,18.70 491.91,14.90" fill="#f01010"/>
<text x="502.41" y="20.03" font-size="8.0" fill="#f01818" stroke="#f01818" stroke-width="0.05" text-anchor="start" font-weight="normal" font-style="normal" textLength="18.53" lengthAdjust="spacingAndGlyphs" >GeTe</text>
<rect x="529.95" y="13.15" width="6.3" height="6.3" fill="#f01010"/>
<text x="539.31" y="19.43" font-size="8.0" fill="#f01818" stroke="#f01818" stroke-width="0.05" text-anchor="start" font-weight="normal" font-style="normal" textLength="29.29" lengthAdjust="spacingAndGlyphs" >CrGeTe<tspan font-size="4.96" dy="2.40">3</tspan></text>
<polygon points="579.16,11.7 587.8,16.5 579.16,21.3" fill="#f01010"/>
<text x="591.07" y="19.43" font-size="8.0" fill="#f01818" stroke="#f01818" stroke-width="0.05" text-anchor="start" font-weight="normal" font-style="normal" textLength="23.33" lengthAdjust="spacingAndGlyphs" >Sb<tspan font-size="4.96" dy="2.40">2</tspan><tspan dy="-2.40">Se</tspan><tspan font-size="4.96" dy="2.40">3</tspan></text>
<polygon points="399.5,26.6 404.1,31.2 399.5,35.8 394.9,31.2" fill="#50b4f0"/>
<text x="409.47" y="34.16" font-size="7.8" fill="#333" stroke="#333" stroke-width="0.18" text-anchor="start" font-weight="normal" font-style="normal" textLength="23.04" lengthAdjust="spacingAndGlyphs" >Ge-Sb–</text>
<text x="409.63" y="42.86" font-size="7.8" fill="#333" stroke="#333" stroke-width="0.18" text-anchor="start" font-weight="normal" font-style="normal" textLength="29.84" lengthAdjust="spacingAndGlyphs" >Te alloys</text>
<circle cx="452.4" cy="31.3" r="3.5" fill="#7cc87c"/>
<text x="459.63" y="34.16" font-size="7.8" fill="#333" stroke="#333" stroke-width="0.18" text-anchor="start" font-weight="normal" font-style="normal" textLength="21.74" lengthAdjust="spacingAndGlyphs" >Sb-Te</text>
<text x="459.66" y="42.86" font-size="7.8" fill="#333" stroke="#333" stroke-width="0.18" text-anchor="start" font-weight="normal" font-style="normal" textLength="20.63" lengthAdjust="spacingAndGlyphs" >alloys</text>
<polygon points="498.38,27.9 491.9,31.5 498.38,35.1" fill="#6a2aa8"/>
<text x="502.46" y="34.16" font-size="7.8" fill="#333" stroke="#333" stroke-width="0.18" text-anchor="start" font-weight="normal" font-style="normal" textLength="9.25" lengthAdjust="spacingAndGlyphs" >Sb</text>
<polygon points="532.50,27.90 535.36,29.55 535.36,32.85 532.50,34.50 529.64,32.85 529.64,29.55" fill="#f4a050"/>
<text x="539.32" y="34.16" font-size="7.8" fill="#333" stroke="#333" stroke-width="0.18" text-anchor="start" font-weight="normal" font-style="normal" textLength="18.22" lengthAdjust="spacingAndGlyphs" >GeTe</text>
<polygon points="583.10,27.70 586.81,30.39 585.39,34.76 580.81,34.76 579.39,30.39" fill="#c0a8e0"/>
<text x="590.54" y="34.16" font-size="7.8" fill="#333" stroke="#333" stroke-width="0.18" text-anchor="start" font-weight="normal" font-style="normal" textLength="43.31" lengthAdjust="spacingAndGlyphs" >Sb<tspan font-size="4.84" dy="2.34">2</tspan><tspan dy="-2.34">Te</tspan><tspan font-size="4.84" dy="2.34">3</tspan><tspan dy="-2.34">/TiTe</tspan><tspan font-size="4.84" dy="2.34">2</tspan></text>
<rect x="643.0" y="28.2" width="6.0" height="6.0" fill="#1a8a2a"/>
<text x="652.62" y="34.16" font-size="7.8" fill="#333" stroke="#333" stroke-width="0.18" text-anchor="start" font-weight="normal" font-style="normal" textLength="29.09" lengthAdjust="spacingAndGlyphs" >CrGeTe<tspan font-size="4.84" dy="2.34">3</tspan></text>
</svg></body></html>
